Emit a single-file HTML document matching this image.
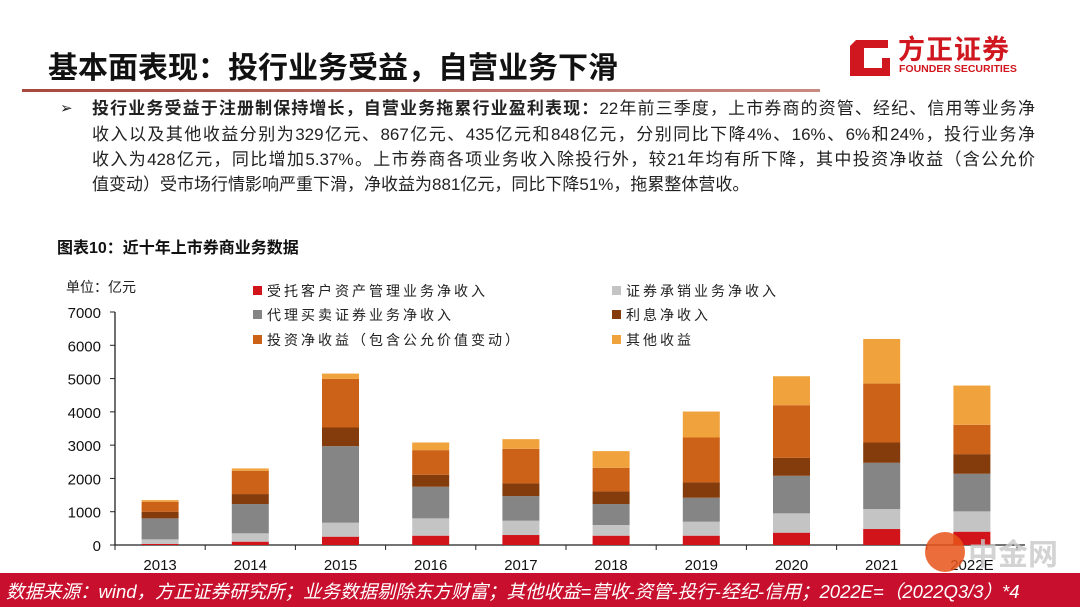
<!DOCTYPE html>
<html><head><meta charset="utf-8">
<style>
body{margin:0;width:1080px;height:607px;overflow:hidden;background:#fff;font-family:"Liberation Sans","Noto Sans CJK SC",sans-serif;position:relative}
.abs{position:absolute}
.line{position:absolute;left:92px;width:943px;font-size:17px;color:#222;text-align:justify;text-align-last:justify;white-space:nowrap;line-height:20px}
</style></head><body>
<div class="abs" style="left:48px;top:43px;font-size:30px;font-weight:bold;color:#111">基本面表现：投行业务受益，自营业务下滑</div>
<div class="abs" style="left:22px;top:89px;width:798px;height:3px;background:linear-gradient(90deg,#a8483f,#c98a82)"></div>
<div class="abs" style="left:848px;top:30px;width:185px;height:50px">
 <svg width="42" height="44" style="position:absolute;left:0;top:2px"><path d="M8 8 L40 8 L40 16 L16 16 L16 36 L34 36 L34 26 L42 26 L42 44 L2 44 L2 14 Z" fill="#d0161e"/></svg>
 <div class="abs" style="left:50px;top:-2px;font-size:27px;font-weight:bold;color:#d0161e;letter-spacing:1px">方正证券</div>
 <div class="abs" style="left:51px;top:33px;font-size:10.5px;font-weight:bold;color:#d0161e">FOUNDER SECURITIES</div>
</div>
<div class="abs" style="left:60px;top:99px;font-size:15px;color:#222">➢</div>
<div class="line" style="top:99px"><b>投行业务受益于注册制保持增长，自营业务拖累行业盈利表现：</b>22年前三季度，上市券商的资管、经纪、信用等业务净</div>
<div class="line" style="top:125px">收入以及其他收益分别为329亿元、867亿元、435亿元和848亿元，分别同比下降4%、16%、6%和24%，投行业务净</div>
<div class="line" style="top:150px">收入为428亿元，同比增加5.37%。上市券商各项业务收入除投行外，较21年均有所下降，其中投资净收益（含公允价</div>
<div class="line" style="top:175px;text-align-last:left;width:auto">值变动）受市场行情影响严重下滑，净收益为881亿元，同比下降51%，拖累整体营收。</div>
<div class="abs" style="left:57px;top:234px;font-size:16px;font-weight:bold;color:#111">图表10：近十年上市券商业务数据</div>

<svg id="chart" class="abs" style="left:0;top:0" width="1080" height="607"></svg>

<div class="abs" style="left:0;top:573px;width:1080px;height:34px;background:#c8102e"></div>
<div class="abs" style="left:6px;top:578px;font-size:18.5px;color:#fff;font-style:italic;white-space:nowrap">数据来源：wind，方正证券研究所；业务数据剔除东方财富；其他收益=营收-资管-投行-经纪-信用；2022E=（2022Q3/3）*4</div>
<div class="abs" style="left:925px;top:532px;width:40px;height:40px;border-radius:50%;background:#e9541a;opacity:.85"></div>
<div class="abs" style="left:968px;top:530px;font-size:30px;font-weight:bold;color:#c9c9c9;opacity:.8">中金网</div>

<script>
const categories=["2013","2014","2015","2016","2017","2018","2019","2020","2021","2022E"];
const assetMgmt=[30,100,250,280,300,280,280,370,480,400];
const underwriting=[140,250,420,520,430,320,420,580,600,610];
const brokerage=[630,880,2300,950,740,630,720,1130,1390,1130];
const interest=[200,300,560,360,380,380,460,540,610,590];
const investment=[300,700,1460,740,1040,710,1350,1580,1770,880];
const other=[50,70,160,230,290,500,780,870,1340,1180];
const yTicks=[0,1000,2000,3000,4000,5000,6000,7000];
const seriesNames=["受托客户资产管理业务净收入","证券承销业务净收入","代理买卖证券业务净收入","利息净收入","投资净收益（包含公允价值变动）","其他收益"];
const series=[assetMgmt,underwriting,brokerage,interest,investment,other];
const colors=["#d0141a","#c4c4c4","#858585","#843c0c","#cc6118","#f0a23c"];
const keys=["asset-mgmt","underwriting","brokerage","interest","investment","other"];

const svg=document.getElementById('chart');
const NS="http://www.w3.org/2000/svg";
const x0=115,x1=1017,y0=545,yTop=312,yMax=7000;
const step=(x1-x0)/categories.length, bw=37;
const y=v=>y0-(v/yMax)*(y0-yTop);
const xc=i=>x0+step*(i+0.5);
function mk(t,a){const e=document.createElementNS(NS,t);for(const k in a)e.setAttribute(k,a[k]);svg.appendChild(e);return e;}

const ax=mk('line',{x1:x0,y1:yTop,x2:x0,y2:y0,stroke:'#222','stroke-width':1.3});


const bx=mk('line',{x1:x0,y1:y0,x2:x1+8,y2:y0,stroke:'#222','stroke-width':1.3});


yTicks.forEach(v=>{
  mk('line',{x1:x0-5,y1:y(v),x2:x0,y2:y(v),stroke:'#222'});
  const t=mk('text',{x:x0-14,y:y(v)+6,'text-anchor':'end','font-size':15,fill:'#111','font-family':'Liberation Sans, sans-serif'});
  t.textContent=v;
  
  
});
for(let i=0;i<=categories.length;i++){mk('line',{x1:x0+step*i,y1:y0,x2:x0+step*i,y2:y0+5,stroke:'#222'});}
categories.forEach((c,i)=>{
  const t=mk('text',{x:xc(i),y:y0+25,'text-anchor':'middle','font-size':15,fill:'#111','font-family':'Liberation Sans, sans-serif'});
  t.textContent=c;
  
  
  let acc=0;
  series.forEach((s,k)=>{
    const r=mk('rect',{x:xc(i)-bw/2,y:y(acc+s[i]),width:bw,height:y(acc)-y(acc+s[i]),fill:colors[k]});
    
    
    acc+=s[i];
  });
});
const ut=mk('text',{x:66,y:292,'font-size':14,fill:'#222','font-family':'Noto Sans CJK SC, sans-serif'});
ut.textContent="单位：亿元";


const legPos=[[253,291],[612,291],[253,315],[612,315],[253,340],[612,340]];
seriesNames.forEach((n,k)=>{
  const [lx,ly]=legPos[k];
  const r=mk('rect',{x:lx,y:ly-5,width:9,height:9,fill:colors[k]});
  
  
  const t=mk('text',{x:lx+14,y:ly+5,'font-size':14,fill:'#222','letter-spacing':'3','font-family':'Noto Sans CJK SC, sans-serif'});
  t.textContent=n;
  
  
});
</script>
</body></html>
